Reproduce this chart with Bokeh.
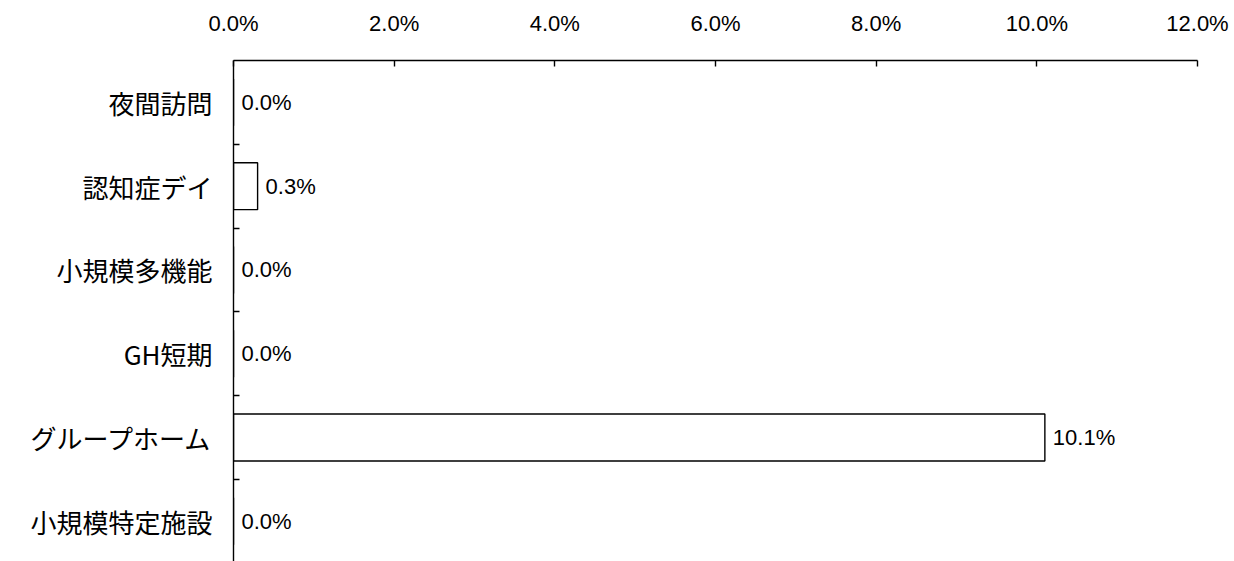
import numpy as np
from bokeh.plotting import figure
from bokeh.models import Range1d, FixedTicker, PrintfTickFormatter, ColumnDataSource
from bokeh.core.properties import value
from bokeh.embed import file_html
from bokeh.resources import INLINE

categories = ["夜間訪問", "認知症デイ", "小規模多機能", "GH短期", "グループホーム", "小規模特定施設"]
values = [0.0, 0.3, 0.0, 0.0, 10.1, 0.0]
x_ticks = [0, 2, 4, 6, 8, 10, 12]

n = len(categories)
centers = list(np.arange(n) + 0.5)
bounds = list(np.arange(1, n))
labels = ["%.1f%%" % v for v in values]

src = ColumnDataSource(dict(y=centers, v=values, lab=labels))

p = figure(width=1234, height=561, output_backend="svg", toolbar_location=None,
           x_range=Range1d(0, 12), y_range=Range1d(5.98, 0),
           x_axis_location="above", min_border_left=233, min_border_right=37,
           min_border_top=60, min_border_bottom=0)
p.outline_line_color = None
p.grid.visible = False
p.background_fill_color = "white"

p.hbar(y="y", right="v", left=0, height=0.56, source=src,
       fill_color="white", line_color="black", line_width=1.4)
p.text(x="v", y="y", text="lab", source=src, x_offset=8, text_baseline="middle",
       text_align="left", text_font=value("Liberation Sans"), text_font_size="22px",
       text_color="black")

xa = p.xaxis[0]
xa.ticker = FixedTicker(ticks=x_ticks, minor_ticks=[])
xa.formatter = PrintfTickFormatter(format="%.1f%%")
xa.major_tick_in = 6
xa.major_tick_out = 0
xa.minor_tick_line_color = None
xa.major_label_standoff = 25
xa.major_label_text_font = "Liberation Sans"
xa.major_label_text_font_size = "22px"
xa.major_label_text_color = "black"
xa.axis_line_color = "black"
xa.axis_line_width = 1.4
xa.major_tick_line_color = "black"
xa.major_tick_line_width = 1.4

ya = p.yaxis[0]
ya.ticker = FixedTicker(ticks=centers, minor_ticks=bounds)
ya.major_label_overrides = {c: cat for c, cat in zip(centers, categories)}
ya.major_tick_in = 0
ya.major_tick_out = 0
ya.minor_tick_in = 6
ya.minor_tick_out = 0
ya.minor_tick_line_color = "black"
ya.minor_tick_line_width = 1.4
ya.major_label_standoff = 21
ya.major_label_text_font = "Noto Sans CJK JP"
ya.major_label_text_font_size = "26px"
ya.major_label_text_color = "black"
ya.axis_line_color = "black"
ya.axis_line_width = 1.4

open("out.html", "w").write(file_html(p, INLINE))
